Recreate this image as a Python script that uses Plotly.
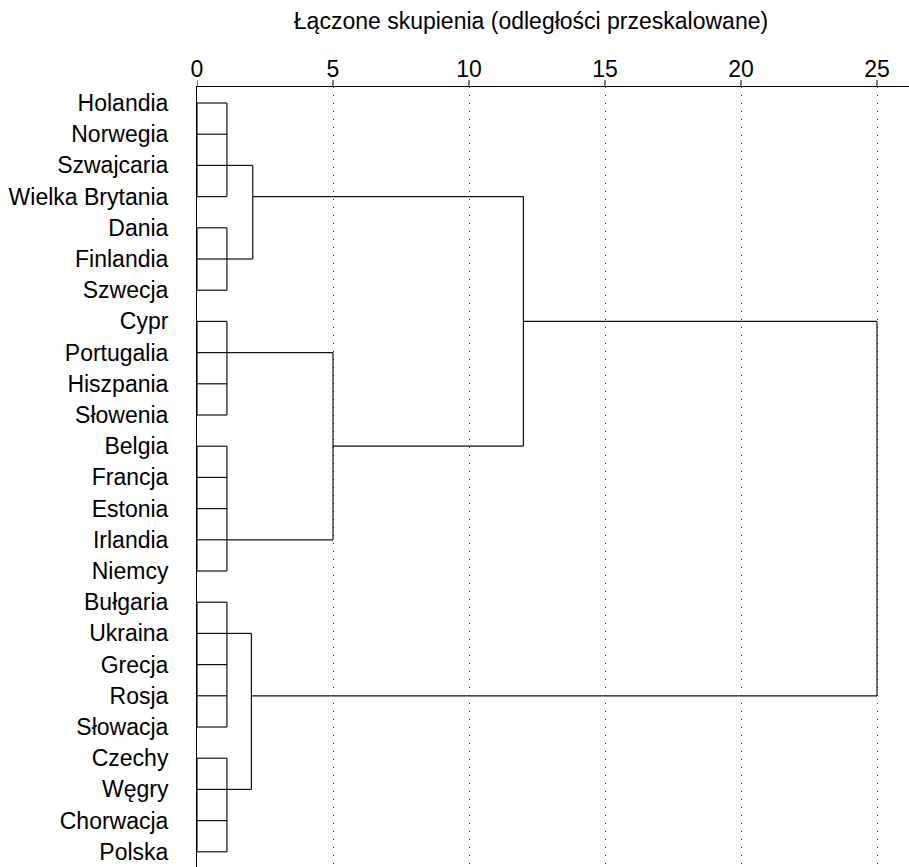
import plotly.graph_objects as go

# Country labels, top to bottom in dendrogram order
labels = ["Holandia", "Norwegia", "Szwajcaria", "Wielka Brytania", "Dania",
          "Finlandia", "Szwecja", "Cypr", "Portugalia", "Hiszpania", "Słowenia",
          "Belgia", "Francja", "Estonia", "Irlandia", "Niemcy", "Bułgaria",
          "Ukraina", "Grecja", "Rosja", "Słowacja", "Czechy", "Węgry",
          "Chorwacja", "Polska"]

# Merge steps: node ids 0..24 are leaves, 25+k is the k-th merge
merge_children = [
    [0, 1, 2, 3],
    [4, 5, 6],
    [7, 8, 9, 10],
    [11, 12, 13, 14, 15],
    [16, 17, 18, 19, 20],
    [21, 22, 23, 24],
    [25, 26],
    [27, 28],
    [29, 30],
    [31, 32],
    [34, 33],
]
# Rescaled linkage distance of each merge
merge_height = [1.1, 1.1, 1.1, 1.1, 1.1, 1.1, 2.05, 5.0, 2.0, 12.0, 25.0]
# Row from which each merged cluster's link leaves to the right
merge_anchor = [2, 5, 8, 14, 17, 22, 3, 11, 19, 7, None]

tick_vals = [0, 5, 10, 15, 20, 25]
title_text = "Łączone skupienia (odległości przeskalowane)"

n_leaves = len(labels)
xs, ys = [], []


def node_pos(c):
    if c < n_leaves:
        return 0.0, c
    k = c - n_leaves
    return merge_height[k], merge_anchor[k]


for k, children in enumerate(merge_children):
    h = merge_height[k]
    rows = []
    for c in children:
        x0, r = node_pos(c)
        rows.append(r)
        xs += [x0, h, None]
        ys += [r, r, None]
    xs += [h, h, None]
    ys += [min(rows), max(rows), None]
    if all(c < n_leaves for c in children):
        xs += [0, 0, None]
        ys += [min(rows), max(rows), None]

fig = go.Figure()
fig.add_trace(go.Scatter(x=xs, y=ys, mode="lines",
                         line=dict(color="#111111", width=1.2),
                         hoverinfo="skip", showlegend=False))

# Short tick marks above the top axis line
plot_h = 867 - 87
for tv in tick_vals:
    fig.add_shape(type="line", xref="x", yref="paper",
                  x0=tv, x1=tv, y0=1, y1=1 + 7 / plot_h,
                  line=dict(color="black", width=1))

family = "Liberation Sans, Arial, sans-serif"

fig.update_layout(
    width=909, height=867,
    margin=dict(l=197, r=0, t=87, b=0),
    plot_bgcolor="white", paper_bgcolor="white",
    font=dict(family=family, size=23, color="black"),
    title=dict(text=title_text, x=531 / 909, xanchor="center",
               y=1 - 21 / 867, yanchor="middle", yref="container",
               font=dict(size=23, color="black", family=family)),
    xaxis=dict(side="top", range=[0, 712 / 27.2], tickvals=tick_vals,
               ticks="",
               showline=True, linecolor="black", linewidth=1,
               showgrid=True, gridcolor="#333333", griddash="1px,7px",
               gridwidth=1, zeroline=False, tickfont=dict(size=23)),
    yaxis=dict(range=[(867 - 103) / 31.2, (87 - 103) / 31.2],
               tickvals=list(range(n_leaves)), ticktext=labels,
               ticks="", showline=True, linecolor="black", linewidth=1,
               showgrid=False, zeroline=False, ticklabelstandoff=23,
               tickfont=dict(size=23)),
)

fig.write_html("out.html")
